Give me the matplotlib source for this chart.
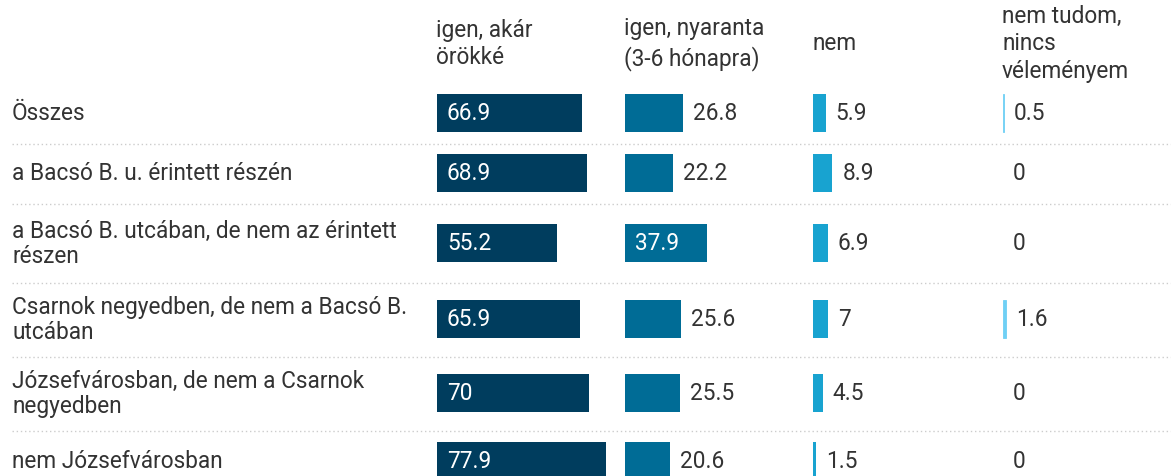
import matplotlib.pyplot as plt

plt.rcParams['font.family'] = ['Roboto', 'DejaVu Sans']

rows = ["Összes",
        "a Bacsó B. u. érintett részén",
        "a Bacsó B. utcában, de nem az érintett\nrészen",
        "Csarnok negyedben, de nem a Bacsó B.\nutcában",
        "Józsefvárosban, de nem a Csarnok\nnegyedben",
        "nem Józsefvárosban"]
headers = ["igen, akár\nörökké", "igen, nyaranta\n(3-6 hónapra)", "nem",
           "nem tudom,\nnincs\nvéleményem"]
igen_orokke = [66.9, 68.9, 55.2, 65.9, 70, 77.9]
igen_nyaranta = [26.8, 22.2, 37.9, 25.6, 25.5, 20.6]
nem = [5.9, 8.9, 6.9, 7, 4.5, 1.5]
nem_tudom = [0.5, 0, 0, 1.6, 0, 0]
series = [igen_orokke, igen_nyaranta, nem, nem_tudom]
labels = [["66.9", "68.9", "55.2", "65.9", "70", "77.9"],
          ["26.8", "22.2", "37.9", "25.6", "25.5", "20.6"],
          ["5.9", "8.9", "6.9", "7", "4.5", "1.5"],
          ["0.5", "0", "0", "1.6", "0", "0"]]

colors = ["#003d5e", "#006c96", "#18a3d0", "#6fd0f5"]
W, H = 1171, 477
row_y = [114, 174, 244, 320, 394, 462]
seps = [145, 205, 284, 358, 432]
col_x = [437, 625, 813, 1003]
px_per_unit = 2.17
bar_h = 38
txt = "#333333"
fs = 16.3

fig = plt.figure(figsize=(W / 100, H / 100), dpi=100)
base = fig.add_axes([0, 0, 1, 1])
base.set_xlim(0, W)
base.set_ylim(H, 0)
base.axis('off')

for y in seps:
    base.plot([12, W], [y, y], color="#cccccc", lw=1, ls=(0, (1, 2)))
for r, y in zip(rows, row_y):
    base.text(12, y, r, ha='left', va='center', fontsize=fs, color=txt,
              linespacing=1.1)
for h, x in zip(headers, col_x):
    base.text(x - 1, 44, h, ha='left', va='center', fontsize=fs, color=txt,
              linespacing=1.27)

for i, (vals, lab) in enumerate(zip(series, labels)):
    aw = 175
    ax = fig.add_axes([col_x[i] / W, 0, aw / W, 1])
    ax.set_xlim(0, aw / px_per_unit)
    ax.set_ylim(H, 0)
    ax.axis('off')
    if i == 3:
        # very thin bars: small edge so the colour stays visible
        ax.barh(row_y, vals, height=bar_h, color=colors[i],
                edgecolor=[colors[i] if v > 0 else 'none' for v in vals],
                linewidth=0.6)
    else:
        ax.barh(row_y, vals, height=bar_h, color=colors[i], linewidth=0)
    for v, l, y in zip(vals, lab, row_y):
        end = v * px_per_unit
        if end > 70:
            ax.text(10 / px_per_unit, y, l, ha='left', va='center',
                    fontsize=fs, color='white')
        else:
            ax.text((end + 10) / px_per_unit, y, l, ha='left', va='center',
                    fontsize=fs, color=txt)

fig.savefig("out.png", dpi=100)
